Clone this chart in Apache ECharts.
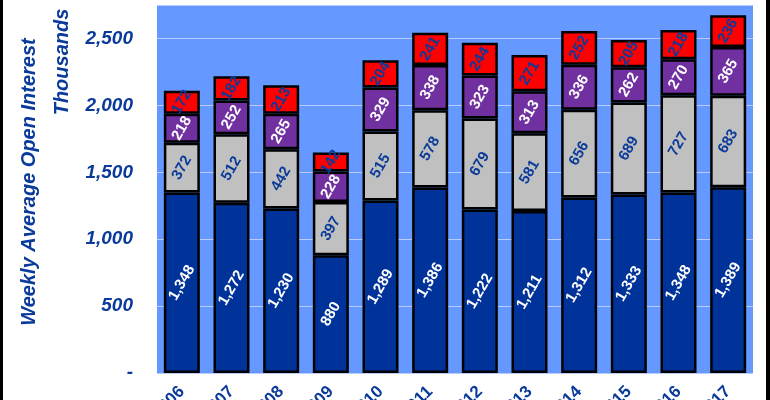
<!DOCTYPE html>
<html>
<head>
<meta charset="utf-8">
<script src="https://cdn.jsdelivr.net/npm/echarts@6/dist/echarts.min.js"></script>
<style>html,body{margin:0;padding:0;background:#fff;}#chart{width:770px;height:400px;}</style>
</head>
<body>
<div id="chart"></div>
<script>
var categories = ['2006','2007','2008','2009','2010','2011','2012','2013','2014','2015','2016','2017'];
var seriesA = [1348, 1272, 1230, 880, 1289, 1386, 1222, 1211, 1312, 1333, 1348, 1389];
var seriesB = [372, 512, 442, 397, 515, 578, 679, 581, 656, 689, 727, 683];
var seriesC = [218, 252, 265, 228, 329, 338, 323, 313, 336, 262, 270, 365];
var seriesD = [172, 182, 213, 142, 204, 241, 244, 271, 252, 205, 218, 236];
var yTicks = [0, 500, 1000, 1500, 2000, 2500];
var titleText = 'Weekly Average Open Interest (Thousands of Contracts, by Type)';

var font = 'Liberation Sans, Arial, sans-serif';
var dark = '#0A3A9A';
function fmt(v){ return v === 0 ? '-' : v.toLocaleString('en-US'); }

function mk(name, data, color, labelColor){
  return {
    name: name, type: 'bar', stack: 'all', data: data, barWidth: 36,
    itemStyle: { color: color, borderColor: '#000', borderWidth: 2.5 },
    label: { show: true, position: 'inside', rotate: 60, color: labelColor,
      fontFamily: font, fontWeight: 'bold', fontSize: 15,
      formatter: function(p){ return fmt(p.value); } }
  };
}

var chart = echarts.init(document.getElementById('chart'));
chart.setOption({
  animation: false,
  backgroundColor: '#fff',
  grid: { left: 157, right: 17, top: 5, bottom: 27, show: true, backgroundColor: '#6699FF', borderWidth: 0,
    containLabel: false, outerBoundsMode: 'none' },
  xAxis: { type: 'category', data: categories,
    axisLine: { show: false }, axisTick: { show: false },
    axisLabel: { rotate: 45, margin: 16, color: dark, fontFamily: font, fontWeight: 'bold', fontSize: 17 } },
  yAxis: { type: 'value', min: 0, max: 2750, interval: 500,
    axisLine: { show: false }, axisTick: { show: false },
    splitLine: { lineStyle: { color: '#B8CCFF', width: 1 } },
    axisLabel: { margin: 24, color: dark, fontFamily: font, fontWeight: 'bold', fontStyle: 'italic', fontSize: 19,
      showMaxLabel: false,
      formatter: function(v){ return yTicks.indexOf(v) >= 0 ? fmt(v) : ''; } } },
  graphic: [
    { type: 'rect', left: 0, top: 0, shape: { width: 3, height: 400 }, style: { fill: '#000' } },
    { type: 'rect', left: 766, top: 0, shape: { width: 4, height: 400 }, style: { fill: '#000' } },
    { type: 'text', x: 400, y: -2, z: 10,
      style: { text: titleText, fill: dark, font: 'italic bold 17px ' + font,
        textAlign: 'center', textVerticalAlign: 'bottom' } },
    { type: 'text', x: 29, y: 182, rotation: Math.PI / 2,
      style: { text: 'Weekly Average Open Interest', fill: dark, font: 'italic bold 20px ' + font,
        textAlign: 'center', textVerticalAlign: 'middle' } },
    { type: 'text', x: 62, y: 62, rotation: Math.PI / 2,
      style: { text: 'Thousands', fill: dark, font: 'italic bold 20px ' + font,
        textAlign: 'center', textVerticalAlign: 'middle' } }
  ],
  series: [
    mk('A', seriesA, '#003399', '#ffffff'),
    mk('B', seriesB, '#C0C0C0', dark),
    mk('C', seriesC, '#7030A0', '#ffffff'),
    mk('D', seriesD, '#FF0000', dark)
  ]
});
</script>
</body>
</html>
